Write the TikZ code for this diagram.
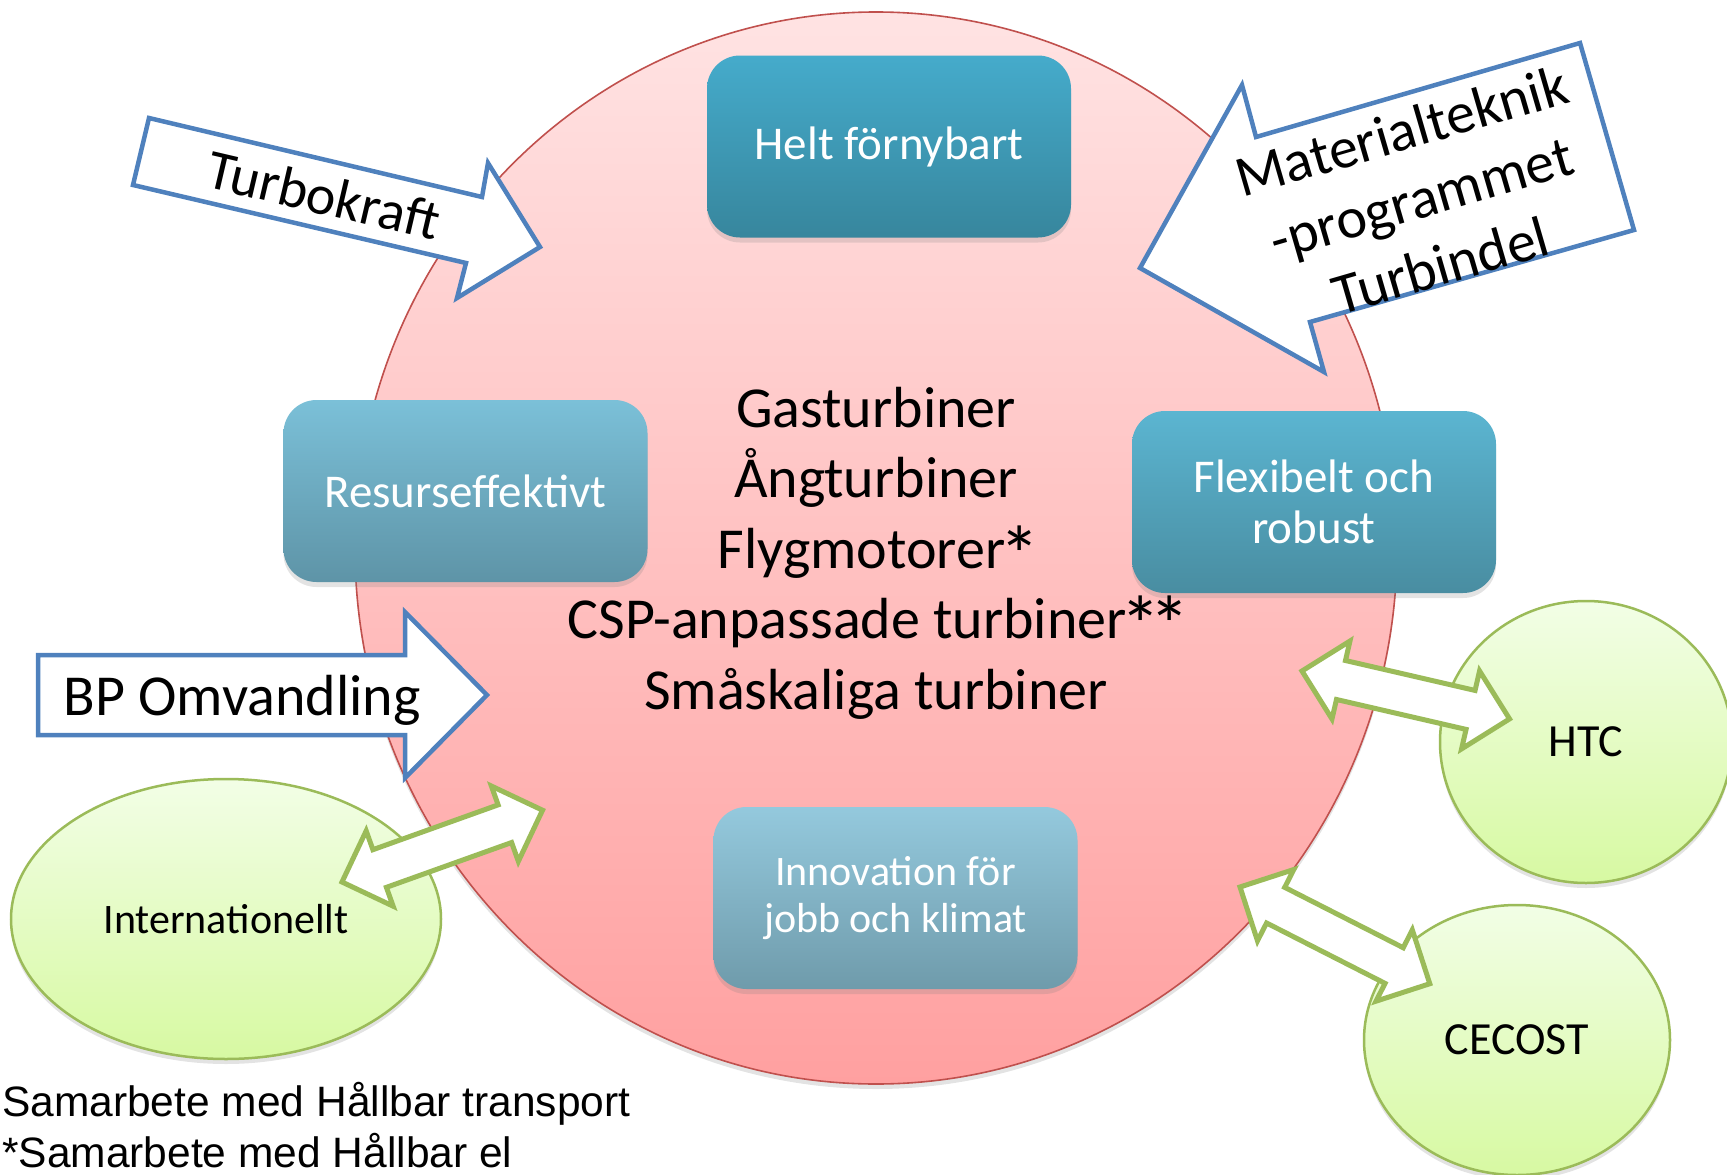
\documentclass[tikz,border=0pt]{standalone}
\usepackage{fontspec}
\usepackage{graphicx}
\setmainfont{Carlito}
\newfontfamily\arialfont{Liberation Sans}
\usetikzlibrary{shapes.geometric,shadows}
\definecolor{bluebd}{HTML}{4F81BD}
\definecolor{greenbd}{HTML}{9BBB59}
\definecolor{circbd}{HTML}{C0504D}
\definecolor{circtop}{HTML}{FFE3E3}
\definecolor{circbot}{HTML}{FFA0A0}
\definecolor{gtop}{HTML}{F2FEE6}
\definecolor{gbot}{HTML}{D7F9A2}
\definecolor{hfTop}{HTML}{45ABCB}
\definecolor{hfBot}{HTML}{37869D}
\definecolor{reTop}{HTML}{7BC0D8}
\definecolor{reBot}{HTML}{5E94A7}
\definecolor{flTop}{HTML}{5BB5D1}
\definecolor{flBot}{HTML}{498DA1}
\definecolor{inTop}{HTML}{94C9DD}
\definecolor{inBot}{HTML}{6F9BAB}
\newcommand\ptstar{\kern-0.1em\raisebox{-0.26em}{\scalebox{1.4}{*}}\kern-0.1em}
\tikzset{
  softshadow/.style={drop shadow={opacity=0.22, shadow xshift=0pt, shadow yshift=-5pt}},
  goalbox/.style={rectangle, rounded corners=33pt, minimum width=364pt, minimum height=182pt,
    inner sep=0pt, text=white, align=center, softshadow},
  partner/.style={ellipse, draw=greenbd, line width=2.5pt, top color=gtop, bottom color=gbot,
    inner sep=0pt, softshadow},
  bluearrow/.style={draw=bluebd, fill=white, line width=4.5pt, miter limit=10},
  gdarrow/.pic={\draw[draw=greenbd, fill=white, line width=5pt, miter limit=10]
    (0,0) -- (40,-40) -- (40,-20) -- (173,-20) -- (173,-40) -- (213,0)
    -- (173,40) -- (173,20) -- (40,20) -- (40,40) -- cycle;}
}
\begin{document}
\begin{tikzpicture}[x=1pt,y=-1pt]
\useasboundingbox (0,0) rectangle (1727,1175);
\clip (0,0) rectangle (1727,1175);

% central circle
\node[ellipse, draw=circbd, line width=1.6pt, minimum width=1042pt, minimum height=1072pt,
  inner sep=0pt, top color=circtop, bottom color=circbot, softshadow] (hub) at (876,548) {};

% goal boxes
\node[goalbox, top color=hfTop, bottom color=hfBot, font=\fontsize{47}{51}\selectfont]
  (helt) at (889,146.5) {Helt förnybart};
\node[goalbox, top color=reTop, bottom color=reBot, font=\fontsize{47}{51}\selectfont]
  (resurs) at (465.5,491) {Resurseffektivt};
\node[goalbox, top color=flTop, bottom color=flBot, font=\fontsize{47}{51}\selectfont]
  (flex) at (1314,502) {Flexibelt och\\robust};
\node[goalbox, top color=inTop, bottom color=inBot, font=\fontsize{42}{46.5}\selectfont]
  (innov) at (895.5,898) {Innovation för\\jobb och klimat};

% centre text
\node[align=center, font=\fontsize{58}{70.5}\selectfont, inner sep=0pt] (tech) at (876,553)
  {Gasturbiner\\Ångturbiner\\Flygmotorer\ptstar\\CSP-anpassade turbiner\ptstar\ptstar\\Småskaliga turbiner};

% partner ellipses
\node[partner, minimum width=430pt, minimum height=280pt, font=\fontsize{42}{46}\selectfont]
  (intl) at (226,919) {Internationellt};
\node[partner, minimum width=292pt, minimum height=282pt, font=\fontsize{46}{50}\selectfont]
  (htc) at (1586,742) {HTC};
\node[partner, minimum width=306pt, minimum height=270pt, font=\fontsize{46}{50}\selectfont]
  (cecost) at (1517,1040) {CECOST};

% green double arrows
\pic[rotate=19.7] at (342,882) {gdarrow};
\pic[rotate=-13] at (1302,671) {gdarrow};
\pic[rotate=-27] at (1240,887) {gdarrow};

% blue block arrows
\draw[bluearrow] (149,118) -- (482,197) -- (488,163) -- (540,247) -- (457,298)
  -- (466,263) -- (133,185) -- cycle;
\node[rotate=-13.2, font=\fontsize{56}{60}\selectfont] (turbo) at (324,195) {Turbokraft};

\draw[bluearrow] (1140,268) -- (1242,85) -- (1256,137) -- (1580,43) -- (1634,230)
  -- (1310,322) -- (1324,372) -- cycle;
\node[rotate=16.2, align=center, font=\fontsize{58}{70}\selectfont, inner sep=0pt] (mat)
  at (1421,198) {Materialteknik\\-programmet\\Turbindel};

\draw[bluearrow] (38,655) -- (405,655) -- (405,612) -- (487,695) -- (405,778)
  -- (405,735) -- (38,735) -- cycle;
\node[anchor=base, font=\fontsize{58}{70}\selectfont, inner sep=0pt] (bp) at (242,715) {BP Omvandling};

% footnotes
\node[anchor=base west, inner sep=0pt, font=\arialfont\fontsize{42.5}{50}\selectfont] (note1)
  at (2,1116) {Samarbete med Hållbar transport};
\node[anchor=base west, inner sep=0pt, font=\arialfont\fontsize{42.5}{50}\selectfont] (note2)
  at (2,1167) {*Samarbete med Hållbar el};
\end{tikzpicture}
\end{document}
